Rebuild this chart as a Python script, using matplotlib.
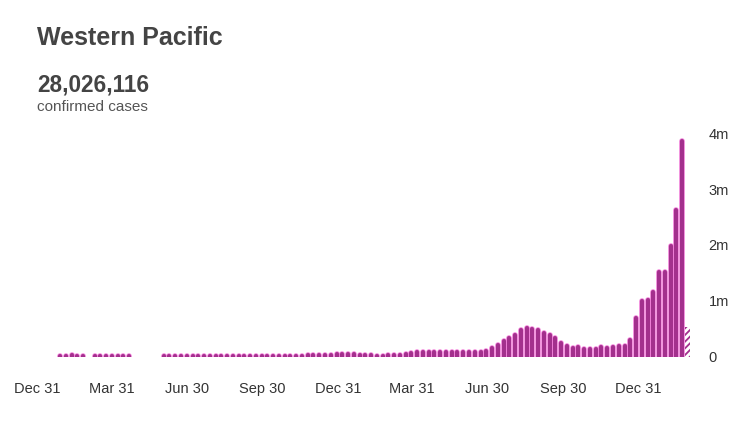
"""Weekly confirmed COVID-19 cases, WHO Western Pacific region."""

import matplotlib
matplotlib.use("Agg")
import matplotlib.pyplot as plt
import pandas as pd

TITLE = "Western Pacific"
TOTAL = "28,026,116"
SUBTITLE = "confirmed cases"

# weekly new cases in millions, first week 2020-01-08; last week is partial
weekly_cases_m = [
    0.0, 0.0, 0.002, 0.012, 0.020, 0.025, 0.012, 0.004, 0.003, 0.004,
    0.005, 0.006, 0.007, 0.007, 0.006, 0.004, 0.003, 0.003, 0.003, 0.003,
    0.003, 0.004, 0.004, 0.005, 0.006, 0.008, 0.010, 0.013, 0.016, 0.018,
    0.020, 0.019, 0.017, 0.016, 0.015, 0.014, 0.013, 0.013, 0.012, 0.012,
    0.013, 0.013, 0.014, 0.016, 0.018, 0.021, 0.024, 0.026, 0.028, 0.031,
    0.035, 0.040, 0.046, 0.048, 0.042, 0.035, 0.027, 0.022, 0.020, 0.021,
    0.022, 0.026, 0.035, 0.055, 0.070, 0.080, 0.085, 0.088, 0.090, 0.092,
    0.090, 0.088, 0.085, 0.082, 0.080, 0.078, 0.090, 0.100, 0.150, 0.210,
    0.280, 0.340, 0.390, 0.480, 0.510, 0.500, 0.480, 0.420, 0.380, 0.330,
    0.240, 0.190, 0.160, 0.180, 0.140, 0.140, 0.140, 0.180, 0.160, 0.180,
    0.190, 0.200, 0.300, 0.690, 0.990, 1.020, 1.150, 1.520, 1.520, 1.990,
    2.630, 3.870, 0.540,
]
week_dates = pd.date_range("2020-01-07", periods=len(weekly_cases_m), freq="7D")

tick_dates = pd.to_datetime([
    "2019-12-31", "2020-03-31", "2020-06-30", "2020-09-30", "2020-12-31",
    "2021-03-31", "2021-06-30", "2021-09-30", "2021-12-31",
])
tick_labels = ["Dec 31", "Mar 31", "Jun 30", "Sep 30", "Dec 31",
               "Mar 31", "Jun 30", "Sep 30", "Dec 31"]
y_ticks = [0, 1, 2, 3, 4]
y_labels = ["0", "1m", "2m", "3m", "4m"]

BAR = "#a3308d"
EDGE = "#f07ad8"


def main() -> None:
    plt.rcParams["font.family"] = ["Liberation Sans", "DejaVu Sans"]
    plt.rcParams["hatch.linewidth"] = 1.3
    plt.rcParams["path.simplify"] = False

    fig = plt.figure(figsize=(7.52, 4.30), dpi=100)
    ax = fig.add_axes([37 / 752, (430 - 356.7) / 430,
                       (692 - 37) / 752, (356.7 - 133.3) / 430])

    values = pd.Series(weekly_cases_m, index=week_dates)
    full = values.iloc[:-1]
    partial = values.iloc[-1:]
    # rounded-top bars: pink halo under a darker core, bottom cap clipped at 0
    ax.vlines(full.index, 0, full.values, colors=EDGE, linewidth=4.0,
              capstyle="round")
    ax.vlines(full.index, 0, full.values, colors=BAR, linewidth=2.9,
              capstyle="round")
    ax.bar(partial.index, partial.values, width=6.2, color="white",
           edgecolor=BAR, hatch="/////", linewidth=0)

    ax.set_xlim(pd.Timestamp("2019-12-31"), pd.Timestamp("2022-03-06"))
    ax.set_ylim(0, 4)
    ax.set_xticks(tick_dates)
    ax.set_xticklabels(tick_labels)
    ax.minorticks_off()
    ax.yaxis.tick_right()
    ax.set_yticks(y_ticks)
    ax.set_yticklabels(y_labels)
    ax.tick_params(axis="x", length=0, pad=18, labelsize=10.5, colors="#333333")
    ax.tick_params(axis="y", length=0, pad=12, labelsize=10.5, colors="#333333")
    for side in ax.spines.values():
        side.set_visible(False)

    fig.text(37 / 752, 1 - 45 / 430, TITLE, fontsize=18, fontweight="bold",
             color="#444444", va="baseline")
    fig.text(37 / 752, 1 - 91.7 / 430, TOTAL, fontsize=16.3, fontweight="bold",
             color="#444444", va="baseline")
    fig.text(37 / 752, 1 - 111 / 430, SUBTITLE, fontsize=11,
             color="#555555", va="baseline")

    fig.savefig("out.png", dpi=100)


if __name__ == "__main__":
    main()
